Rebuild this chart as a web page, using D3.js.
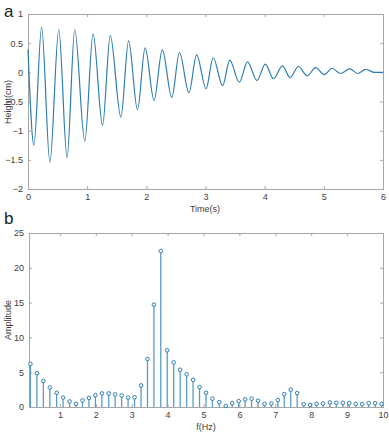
<!DOCTYPE html>
<html><head><meta charset="utf-8">
<script src="https://cdn.jsdelivr.net/npm/d3@7"></script>
<style>
html,body{margin:0;padding:0;background:#fff;}
svg{display:block;}
text{font-family:"Liberation Sans",Arial,sans-serif;}
</style></head>
<body>
<svg id="c" width="389" height="433"></svg>
<script>
// ---- Panel a: time series (extrema) ----
const times = [0, 0.10, 0.23, 0.37, 0.52, 0.66, 0.79, 0.96, 1.10, 1.26, 1.39, 1.57, 1.70, 1.85, 1.98, 2.13, 2.27, 2.43, 2.56, 2.72, 2.85, 3.01, 3.13, 3.29, 3.41, 3.57, 3.71, 3.87, 4.01, 4.15, 4.30, 4.43, 4.57, 4.72, 4.86, 5.01, 5.14, 5.28, 5.44, 5.57, 5.71, 5.85, 6.0];
const heights = [0.39, -1.25, 0.77, -1.54, 0.73, -1.46, 0.73, -1.18, 0.66, -0.91, 0.63, -0.77, 0.54, -0.64, 0.42, -0.48, 0.39, -0.43, 0.34, -0.35, 0.30, -0.28, 0.25, -0.23, 0.21, -0.17, 0.18, -0.14, 0.14, -0.11, 0.11, -0.09, 0.10, -0.06, 0.08, -0.04, 0.07, -0.02, 0.06, -0.02, 0.05, 0.0, 0.0];
const timeTicks = [0, 1, 2, 3, 4, 5, 6];
const heightTicks = [-2, -1.5, -1, -0.5, 0, 0.5, 1];

// ---- Panel b: spectrum ----
const freqs = [0.18, 0.36, 0.54, 0.72, 0.91, 1.09, 1.27, 1.45, 1.63, 1.81, 1.99, 2.17, 2.36, 2.54, 2.72, 2.90, 3.08, 3.26, 3.44, 3.62, 3.81, 3.99, 4.17, 4.35, 4.53, 4.71, 4.89, 5.07, 5.25, 5.44, 5.62, 5.80, 5.98, 6.16, 6.34, 6.52, 6.70, 6.89, 7.07, 7.25, 7.43, 7.61, 7.79, 7.97, 8.15, 8.33, 8.52, 8.70, 8.88, 9.06, 9.24, 9.42, 9.60, 9.78, 9.96];
const amplitudes = [6.2, 4.85, 3.75, 2.8, 2.05, 1.35, 0.8, 0.45, 0.95, 1.3, 1.7, 1.95, 1.95, 1.8, 1.65, 1.35, 1.4, 3.1, 6.9, 14.7, 22.4, 8.15, 6.4, 5.35, 4.7, 3.9, 2.85, 2.05, 1.2, 0.7, 0.15, 0.55, 0.85, 1.1, 1.2, 0.9, 0.45, 0.5, 1.0, 1.85, 2.5, 2.0, 0.4, 0.3, 0.45, 0.5, 0.65, 0.6, 0.6, 0.55, 0.45, 0.4, 0.55, 0.55, 0.45];
const freqTicks = [1, 2, 3, 4, 5, 6, 7, 8, 9, 10];
const ampTicks = [0, 5, 10, 15, 20, 25];

const svg = d3.select("#c");
const AX = "#a6a6a6", TX = "#404040", LINE = "#2d7db0", STEM = "#5a9cc4";

function frame(g, x, y, xt, yt, fmtX, fmtY) {
  const [x0, x1] = x.range(), [y0, y1] = y.range();
  const tl = 3;
  g.append("rect").attr("x", x0).attr("y", y1).attr("width", x1 - x0).attr("height", y0 - y1)
    .attr("fill", "none").attr("stroke", AX).attr("stroke-width", 1).attr("shape-rendering", "crispEdges");
  // bottom axis (ticks inward)
  const bx = g.append("g").attr("transform", `translate(0,${y0})`)
    .call(d3.axisBottom(x).tickValues(xt).tickSize(-tl).tickPadding(5).tickFormat(fmtX));
  const tx = g.append("g").attr("transform", `translate(0,${y1})`)
    .call(d3.axisTop(x).tickValues(xt).tickSize(-tl).tickFormat(""));
  const ly = g.append("g").attr("transform", `translate(${x0},0)`)
    .call(d3.axisLeft(y).tickValues(yt).tickSize(-tl).tickPadding(5).tickFormat(fmtY));
  const ry = g.append("g").attr("transform", `translate(${x1},0)`)
    .call(d3.axisRight(y).tickValues(yt).tickSize(-tl).tickFormat(""));
  [bx, tx, ly, ry].forEach(a => {
    a.select(".domain").remove();
    a.selectAll("line").attr("stroke", AX);
    a.selectAll("text").attr("fill", TX).attr("font-size", 9);
  });
}

// Panel a
const xa = d3.scaleLinear().domain([0, 6]).range([28, 383]);
const ya = d3.scaleLinear().domain([-2, 1]).range([189, 14]);
const ga = svg.append("g");
frame(ga, xa, ya, timeTicks, heightTicks, d3.format("d"), d => d3.format("")(d));
const line = d3.line().x((d, i) => xa(times[i])).y(d => ya(d)).curve(d3.curveMonotoneX);
ga.append("path").datum(heights).attr("d", line).attr("fill", "none")
  .attr("stroke", LINE).attr("stroke-width", 1.2);
ga.append("text").attr("x", 205).attr("y", 212).attr("text-anchor", "middle")
  .attr("font-size", 9).attr("fill", TX).text("Time(s)");
ga.append("text").attr("transform", "translate(11,102) rotate(-90)").attr("text-anchor", "middle")
  .attr("font-size", 9).attr("fill", TX).text("Height(cm)");
svg.append("text").attr("x", 4).attr("y", 17).attr("font-family", "Liberation Serif, Times New Roman, serif")
  .attr("font-size", 17).attr("fill", "#222").text("a");

// Panel b
const xb = d3.scaleLinear().domain([0.14, 10]).range([29, 383]);
const yb = d3.scaleLinear().domain([0, 25]).range([407, 233]);
const gb = svg.append("g");
frame(gb, xb, yb, freqTicks, ampTicks, d3.format("d"), d3.format("d"));
gb.selectAll("line.stem").data(amplitudes).enter().append("line").attr("class", "stem")
  .attr("x1", (d, i) => xb(freqs[i])).attr("x2", (d, i) => xb(freqs[i]))
  .attr("y1", yb(0)).attr("y2", d => yb(d))
  .attr("stroke", STEM).attr("stroke-width", 1.3);
gb.selectAll("circle.mk").data(amplitudes).enter().append("circle").attr("class", "mk")
  .attr("cx", (d, i) => xb(freqs[i])).attr("cy", d => yb(d)).attr("r", 1.8)
  .attr("fill", "#fff").attr("stroke", LINE).attr("stroke-width", 1);
gb.append("text").attr("x", 206).attr("y", 430).attr("text-anchor", "middle")
  .attr("font-size", 9).attr("fill", TX).text("f(Hz)");
gb.append("text").attr("transform", "translate(11,320) rotate(-90)").attr("text-anchor", "middle")
  .attr("font-size", 9).attr("fill", TX).text("Amplitude");
svg.append("text").attr("x", 4).attr("y", 224).attr("font-family", "Liberation Serif, Times New Roman, serif")
  .attr("font-size", 17).attr("fill", "#222").text("b");
</script>
</body></html>
